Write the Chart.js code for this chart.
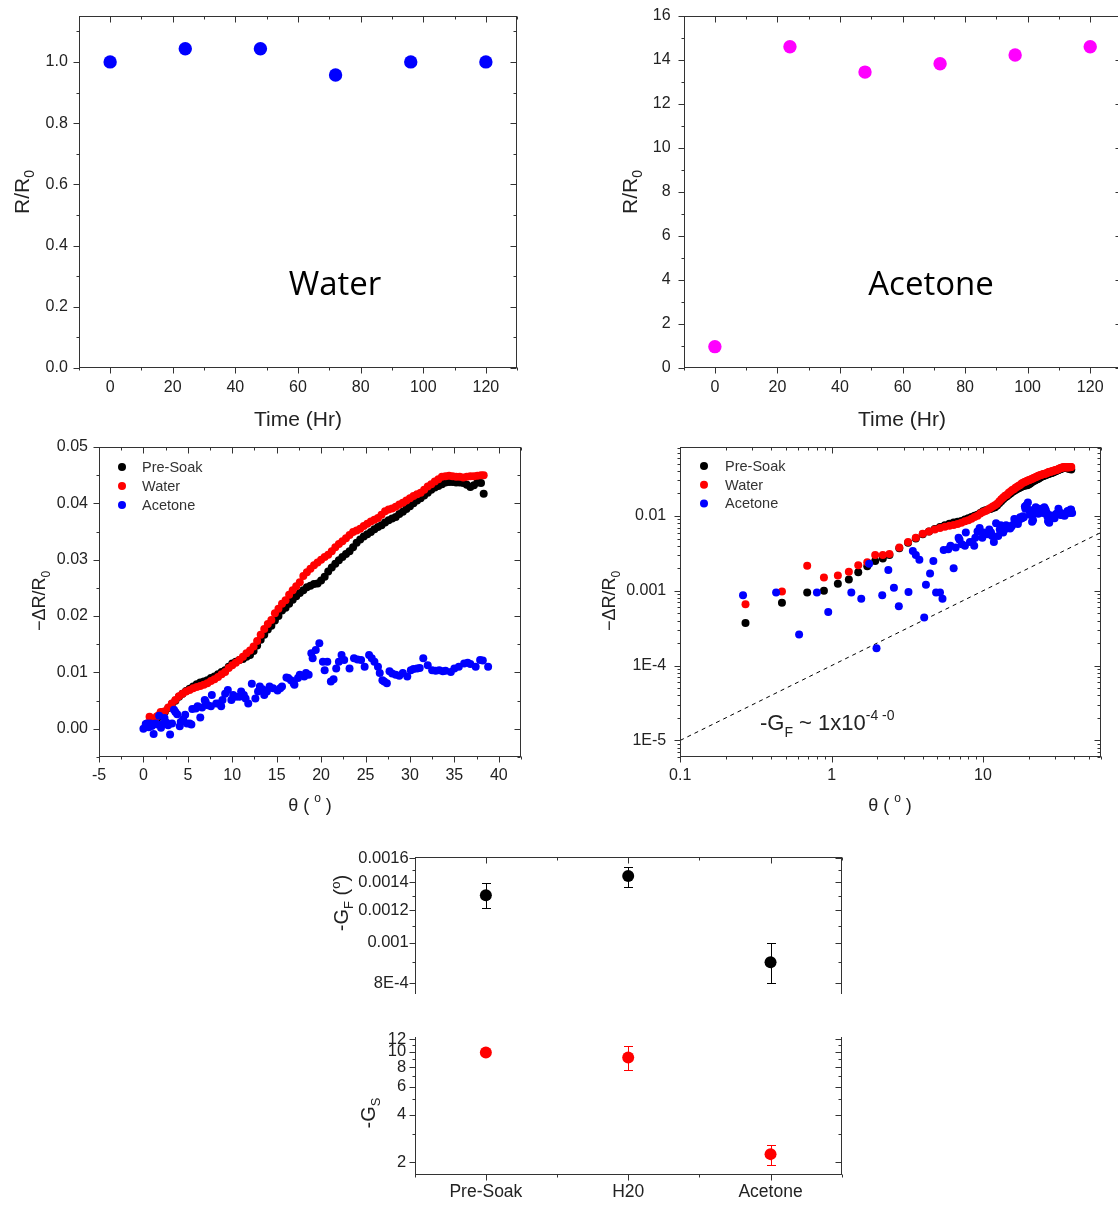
<!DOCTYPE html>
<html>
<head>
<meta charset="utf-8">
<title>Soak test: resistance ratio and gauge factor</title>
<script src="https://cdn.jsdelivr.net/npm/chart.js@4.4.1/dist/chart.umd.min.js"></script>
<style>
  body { margin: 0; background: #fff; }
  #page { position: relative; width: 1118px; height: 1205px; overflow: hidden; background: #fff; }
  #page canvas { position: absolute; display: block; }
</style>
</head>
<body>
<div id="page">
  <canvas id="water" width="540" height="440" style="left:0;top:0"></canvas>
  <canvas id="acetone" width="540" height="440" style="left:590px;top:0"></canvas>
  <canvas id="bendLin" width="540" height="400" style="left:0;top:430px"></canvas>
  <canvas id="bendLog" width="528" height="400" style="left:590px;top:430px"></canvas>
  <canvas id="gaugeF" width="560" height="160" style="left:320px;top:840px"></canvas>
  <canvas id="gaugeS" width="560" height="185" style="left:320px;top:1020px"></canvas>
</div>
<script>
'use strict';

// ---- data ----
const soakHours = [0, 24, 48, 72, 96, 120];
const waterRatio = [1.0, 1.043, 1.043, 0.957, 1.0, 1.0];
const acetoneRatio = [0.97, 14.6, 13.45, 13.83, 14.23, 14.6];

const seriesNames = ['Pre-Soak', 'Water', 'Acetone'];

// bend angle (deg) shared by pre-soak and water sweeps
const thetaCurve = [
  0.27, 0.47, 0.69, 0.89, 1.1, 1.3, 1.5, 1.72, 1.94, 2.18, 2.41,
  2.8, 3.2, 3.6, 4.0, 4.4, 4.8, 5.2, 5.6, 6.0, 6.4,
  6.8, 7.2, 7.6, 8.0, 8.4, 8.8, 9.2, 9.6, 10.0, 10.4,
  10.8, 11.2, 11.6, 12.0, 12.4, 12.8, 13.2, 13.6, 14.0, 14.4,
  14.8, 15.2, 15.6, 16.0, 16.4, 16.8, 17.2, 17.6, 18.0, 18.4,
  18.8, 19.2, 19.6, 20.0, 20.4, 20.8, 21.2, 21.6, 22.0, 22.4,
  22.8, 23.2, 23.6, 24.0, 24.4, 24.8, 25.2, 25.6, 26.0, 26.4,
  26.8, 27.2, 27.6, 28.0, 28.4, 28.8, 29.2, 29.6, 30.0, 30.4,
  30.8, 31.2, 31.6, 32.0, 32.4, 32.8, 33.2, 33.6, 34.0, 34.4,
  34.8, 35.2, 35.6, 36.0, 36.4, 36.8, 37.2, 37.6, 38.0, 38.3
];
const preSoakDR = [
  0.00037, 0.00069, 0.00095, 0.0010, 0.00124, 0.00142, 0.00177, 0.00213, 0.0025, 0.0027, 0.0030,
  0.0037, 0.0044, 0.0050, 0.0057, 0.0062, 0.0067, 0.0071, 0.0075, 0.0079, 0.0082,
  0.0084, 0.0086, 0.0090, 0.0093, 0.0097, 0.0101, 0.0104, 0.0110, 0.0116, 0.0119,
  0.0122, 0.0124, 0.0128, 0.0131, 0.0138, 0.0148, 0.0158, 0.0167, 0.0176, 0.0183,
  0.0192, 0.0200, 0.0210, 0.0215, 0.0222, 0.0229, 0.0235, 0.0241, 0.0246, 0.0251,
  0.0254, 0.0257, 0.0258, 0.0263, 0.0270, 0.0279, 0.0286, 0.0293, 0.0299, 0.0305,
  0.0310, 0.0315, 0.0322, 0.0330, 0.0336, 0.0341, 0.0345, 0.0349, 0.0354, 0.0358,
  0.0361, 0.0366, 0.0370, 0.0373, 0.0376, 0.0381, 0.0385, 0.0390, 0.0395, 0.0400,
  0.0405, 0.0409, 0.0414, 0.0419, 0.0424, 0.0428, 0.0431, 0.0434, 0.0437, 0.0438,
  0.0438, 0.0437, 0.0437, 0.0436, 0.0433, 0.0429, 0.0432, 0.0437, 0.0436, 0.0417
];
const waterDR = [
  0.00066, 0.00098, 0.00216, 0.0015, 0.0016, 0.0018, 0.0022, 0.0024, 0.0030, 0.0030, 0.0031,
  0.0038, 0.0045, 0.0051, 0.0058, 0.0062, 0.0066, 0.0069, 0.0072, 0.0074, 0.0076,
  0.0078, 0.0081, 0.0085, 0.0088, 0.0092, 0.0097, 0.0101, 0.0108, 0.0113, 0.0117,
  0.0122, 0.0128, 0.0134, 0.0139, 0.0146, 0.0156, 0.0167, 0.0177, 0.0186, 0.0193,
  0.0205, 0.0213, 0.0222, 0.0228, 0.0238, 0.0246, 0.0253, 0.0260, 0.0271, 0.0278,
  0.0284, 0.0290, 0.0295, 0.0300, 0.0305, 0.0309, 0.0315, 0.0322, 0.0328, 0.0333,
  0.0338, 0.0344, 0.0349, 0.0352, 0.0355, 0.0360, 0.0364, 0.0368, 0.0371, 0.0374,
  0.0380, 0.0386, 0.0389, 0.0391, 0.0394, 0.0398, 0.0401, 0.0405, 0.0409, 0.0413,
  0.0416, 0.0419, 0.0424, 0.0430, 0.0434, 0.0439, 0.0443, 0.0447, 0.0448, 0.0449,
  0.0448, 0.0447, 0.0447, 0.0446, 0.0447, 0.0448, 0.0448, 0.0449, 0.0450, 0.0450
];

const thetaAcetone = [
  0, 0.26, 0.43, 0.61, 0.8, 0.95, 1.15, 1.35, 1.57, 1.77,
  1.98, 2.16, 2.37, 2.58, 2.78, 3.0, 3.22, 3.44, 3.6, 3.8,
  4.09, 4.2, 4.47, 4.7, 4.9, 5.2, 5.4, 5.5, 5.9, 6.1,
  6.4, 6.6, 6.9, 7.0, 7.25, 7.6, 7.7, 8.2, 8.5, 8.75,
  8.9, 9.2, 9.5, 9.9, 10.1, 10.4, 10.8, 11.0, 11.3, 11.5,
  11.8, 12.2, 12.6, 12.9, 13.1, 13.4, 13.6, 13.9, 14.2, 14.6,
  15.1, 15.4, 15.6, 16.1, 16.3, 16.6, 16.9, 17.0, 17.4, 17.6,
  18.1, 18.3, 18.6, 18.9, 19.05, 19.4, 19.8, 20.2, 20.4, 20.7,
  21.1, 21.4, 21.7, 22.0, 22.3, 22.6, 23.2, 23.7, 24.1, 24.5,
  24.9, 25.4, 25.7, 26.0, 26.4, 26.6, 26.9, 27.1, 27.4, 27.7,
  28.0, 28.4, 28.8, 29.2, 29.7, 30.1, 30.4, 30.8, 31.1, 31.5,
  32.0, 32.5, 32.9, 33.3, 33.7, 34.0, 34.6, 35.0, 35.5, 36.1,
  36.5, 36.8, 37.4, 37.9, 38.2, 38.8
];
const acetoneDR = [
  0, 0.00087, 0.00095, 0.00026, 0.00095, 0.00052, -0.0009, 0.00095, 0.00078, 0.0023,
  0.00017, 0.00087, 0.0019, 0.0011, 0.00062, -0.001, 0.00096, 0.0034, 0.0030, 0.0026,
  0.00044, 0.0012, 0.0017, 0.0025, 0.00095, 0.00095, 0.00078, 0.0035, 0.0036, 0.0040,
  0.0020, 0.0038, 0.0051, 0.0048, 0.0042, 0.0040, 0.0060, 0.0045, 0.0045, 0.0040,
  0.0051, 0.0062, 0.0069, 0.0051, 0.0060, 0.0057, 0.0057, 0.0066, 0.0060, 0.0054,
  0.0045, 0.0080, 0.0054, 0.0066, 0.0075, 0.0070, 0.0060, 0.0066, 0.0075, 0.0072,
  0.0068, 0.0072, 0.0075, 0.0091, 0.0090, 0.0086, 0.0081, 0.0078, 0.0090, 0.0096,
  0.0093, 0.0099, 0.0096, 0.0134, 0.0125, 0.0140, 0.0152, 0.0119, 0.0104, 0.0119,
  0.0084, 0.0088, 0.0107, 0.0119, 0.0131, 0.0122, 0.0107, 0.0125, 0.0123, 0.0122,
  0.0110, 0.0131, 0.0125, 0.0119, 0.0110, 0.0099, 0.0086, 0.0084, 0.0081, 0.0102,
  0.0098, 0.0096, 0.0094, 0.0099, 0.0093, 0.0104, 0.0106, 0.0107, 0.0108, 0.0125,
  0.0113, 0.0104, 0.0103, 0.0104, 0.0102, 0.0103, 0.0101, 0.0107, 0.0110, 0.0116,
  0.0117, 0.0115, 0.0110, 0.0122, 0.0121, 0.0110
];

// dashed guide line, -G_F ~ 1e-4
const fitTheta = [0.1, 60];
const fitDR = [1e-5, 6e-3];

// gauge factors per sample
const sampleNames = ['Pre-Soak', 'H20', 'Acetone'];
const sampleTicks = [0, 1, 2];
const gF = [0.001303, 0.001449, 0.000898];
const gFLow = [0.001214, 0.001364, 0.0008];
const gFHigh = [0.001394, 0.00152, 0.001];
const gS = [9.9, 9.2, 2.25];
const gSLow = [9.65, 7.66, 1.92];
const gSHigh = [10.15, 10.9, 2.56];

// tick values and labels
const hourTicks = [0, 20, 40, 60, 80, 100, 120];
const waterTicks = [0, 0.2, 0.4, 0.6, 0.8, 1.0];
const acetoneTicks = [0, 2, 4, 6, 8, 10, 12, 14, 16];
const thetaTicks = [-5, 0, 5, 10, 15, 20, 25, 30, 35, 40];
const drTicks = [0, 0.01, 0.02, 0.03, 0.04, 0.05];
const thetaLogTicks = [0.1, 1, 10];
const thetaLogLabels = ['0.1', '1', '10'];
const drLogTicks = [1e-5, 1e-4, 1e-3, 1e-2];
const drLogLabels = ['1E-5', '1E-4', '0.001', '0.01'];
const gFTicks = [0.0008, 0.001, 0.0012, 0.0014, 0.0016];
const gFLabels = ['8E-4', '0.001', '0.0012', '0.0014', '0.0016'];
const gSTicks = [2, 4, 6, 8, 10, 12];

// ---- styling ----
const SANS = '"Liberation Sans", Arial, sans-serif';
const LABEL_FONT = '"Open Sans", Lato, sans-serif';
const INK = '#222';
const AXIS = '#333';
const BLUE = '#0000ff', MAGENTA = '#ff00ff', RED = '#ff0000', BLACK = '#000000';

Chart.defaults.font.family = SANS;
Chart.defaults.color = INK;
Chart.defaults.animation = false;
Chart.defaults.plugins.legend.display = false;
Chart.defaults.plugins.tooltip.enabled = false;
Chart.defaults.elements.point.borderWidth = 0;

const pairs = (xs, ys) => xs.map((x, i) => ({ x, y: ys[i] }));
const positive = pts => pts.filter(p => p.x > 0 && p.y > 0);

function scale(type, min, max, values, labels, size, pad, fit) {
  return {
    type, min, max,
    grid: { display: false, drawTicks: false },
    border: { display: false },
    ticks: {
      display: labels !== null,
      autoSkip: false, maxRotation: 0, minRotation: 0,
      padding: pad, color: INK, font: { size },
      callback: (v, i) => labels ? labels[i] : ''
    },
    afterBuildTicks: s => { s.ticks = values.map(value => ({ value })); },
    // fixed axis box, and no label overhang pushing the plot area around
    afterFit: s => {
      if (s.isHorizontal()) { s.height = fit; s.paddingLeft = 0; s.paddingRight = 0; }
      else { s.width = fit; s.paddingTop = 0; s.paddingBottom = 0; }
    }
  };
}

function minorValues(sc, major, mid) {
  const out = [];
  if (sc.type === 'logarithmic' && !mid) {
    const lo = Math.floor(Math.log10(sc.min)), hi = Math.ceil(Math.log10(sc.max));
    for (let e = lo; e < hi; e++) {
      for (let k = 2; k < 10; k++) {
        const v = k * Math.pow(10, e);
        if (v >= sc.min && v <= sc.max) out.push(v);
      }
    }
    return out;
  }
  const step = major[1] - major[0];
  for (let v = major[0] - step / 2; v <= sc.max + step * 1e-6; v += step) {
    if (v >= sc.min - step * 1e-6) out.push(v);
  }
  return out;
}

// box frame; ticks point out on left/bottom and in on top/right
const frame = (sides, midY) => ({
  id: 'frame',
  afterDraw(chart) {
    const { ctx, chartArea: a } = chart;
    const L = Math.round(a.left) + 0.5, R = Math.round(a.right) - 0.5;
    const T = Math.round(a.top) + 0.5, B = Math.round(a.bottom) - 0.5;
    const has = s => sides.includes(s);
    ctx.save();
    ctx.strokeStyle = AXIS;
    ctx.lineWidth = 1;
    ctx.beginPath();
    if (has('t')) { ctx.moveTo(L - 0.5, T); ctx.lineTo(R + 0.5, T); }
    if (has('b')) { ctx.moveTo(L - 0.5, B); ctx.lineTo(R + 0.5, B); }
    if (has('l')) { ctx.moveTo(L, T - 0.5); ctx.lineTo(L, B + 0.5); }
    if (has('r')) { ctx.moveTo(R, T - 0.5); ctx.lineTo(R, B + 0.5); }
    const marks = (sc, vals, len) => vals.forEach(v => {
      const p = Math.round(sc.getPixelForValue(v)) + 0.5;
      if (sc.isHorizontal()) {
        if (p < L - 1 || p > R + 1) return;
        if (has('b')) { ctx.moveTo(p, B); ctx.lineTo(p, B + len); }
        if (has('t')) { ctx.moveTo(p, T); ctx.lineTo(p, T + len); }
      } else {
        if (p < T - 1 || p > B + 1) return;
        if (has('l')) { ctx.moveTo(L, p); ctx.lineTo(L - len, p); }
        if (has('r')) { ctx.moveTo(R, p); ctx.lineTo(R - len, p); }
      }
    });
    const { x, y } = chart.scales;
    [[x, false], [y, midY]].forEach(([sc, mid]) => {
      const major = sc.ticks.map(t => t.value);
      marks(sc, major, 6);
      marks(sc, minorValues(sc, major, mid), 3);
    });
    ctx.stroke();
    ctx.restore();
  }
});

// text with sub/superscripts: parts are [text, size, dy]
function drawRich(ctx, item) {
  const fam = item.family || SANS;
  ctx.save();
  ctx.translate(item.x, item.y);
  if (item.rot) ctx.rotate(-Math.PI / 2);
  ctx.fillStyle = item.color || INK;
  ctx.textBaseline = 'alphabetic';
  ctx.textAlign = 'left';
  let w = 0;
  item.parts.forEach(([t, s]) => { ctx.font = s + 'px ' + fam; w += ctx.measureText(t).width; });
  let cx = item.left ? 0 : -w / 2;
  item.parts.forEach(([t, s, dy]) => {
    ctx.font = s + 'px ' + fam;
    ctx.fillText(t, cx, dy || 0);
    cx += ctx.measureText(t).width;
  });
  ctx.restore();
}
const texts = items => ({
  id: 'texts',
  afterDraw(chart) { items.forEach(it => drawRich(chart.ctx, it)); }
});

// legend drawn inside the plot
const inLegend = (x, y, dy, gap) => ({
  id: 'inLegend',
  afterDraw(chart) {
    const ctx = chart.ctx;
    ctx.save();
    ctx.font = '14.5px ' + SANS;
    ctx.textBaseline = 'middle';
    chart.data.datasets.filter(d => d.label).forEach((d, i) => {
      const cy = y + i * dy;
      ctx.fillStyle = d.backgroundColor;
      ctx.beginPath();
      ctx.arc(x, cy, 4, 0, Math.PI * 2);
      ctx.fill();
      ctx.fillStyle = '#333';
      ctx.fillText(d.label, x + gap, cy + 1);
    });
    ctx.restore();
  }
});

const errorBars = (low, high, color) => ({
  id: 'errorBars',
  beforeDatasetsDraw(chart) {
    const { ctx, scales: { x, y } } = chart;
    ctx.save();
    ctx.strokeStyle = color;
    ctx.lineWidth = 1;
    ctx.beginPath();
    low.forEach((lo, i) => {
      const px = Math.round(x.getPixelForValue(i)) + 0.5;
      const y0 = Math.round(y.getPixelForValue(lo)) + 0.5;
      const y1 = Math.round(y.getPixelForValue(high[i])) + 0.5;
      ctx.moveTo(px, y0); ctx.lineTo(px, y1);
      ctx.moveTo(px - 4.5, y0); ctx.lineTo(px + 4.5, y0);
      ctx.moveTo(px - 4.5, y1); ctx.lineTo(px + 4.5, y1);
    });
    ctx.stroke();
    ctx.restore();
  }
});

// Water soak
new Chart(document.getElementById('water'), {
  type: 'scatter',
  data: { datasets: [{ data: pairs(soakHours, waterRatio), backgroundColor: BLUE, pointRadius: 6.7 }] },
  options: {
    responsive: false,
    layout: { padding: { top: 16, right: 22.8, bottom: 0, left: 0 } },
    scales: {
      x: scale('linear', -10, 130, hourTicks, hourTicks.map(String), 16, 10, 72),
      y: scale('linear', 0, 1.15, waterTicks, waterTicks.map(v => v.toFixed(1)), 16, 11, 78.8)
    }
  },
  plugins: [frame('tblr'), texts([
    { x: 298, y: 426, parts: [['Time (Hr)', 21]] },
    { x: 29, y: 192, rot: true, parts: [['R/R', 21], ['0', 14, 5]] },
    { x: 335, y: 295, family: LABEL_FONT, color: '#000', parts: [['Water', 33]] }
  ])]
});

// Acetone soak (right border falls just past the picture edge)
new Chart(document.getElementById('acetone'), {
  type: 'scatter',
  data: { datasets: [{ data: pairs(soakHours, acetoneRatio), backgroundColor: MAGENTA, pointRadius: 6.7 }] },
  options: {
    responsive: false,
    layout: { padding: { top: 16, right: 8.5, bottom: 0, left: 0 } },
    scales: {
      x: scale('linear', -10, 130, hourTicks, hourTicks.map(String), 16, 10, 72),
      y: scale('linear', 0, 16, acetoneTicks, acetoneTicks.map(String), 16, 13, 93.6)
    }
  },
  plugins: [frame('tblr'), texts([
    { x: 312, y: 426, parts: [['Time (Hr)', 21]] },
    { x: 47, y: 192, rot: true, parts: [['R/R', 21], ['0', 14, 5]] },
    { x: 341, y: 295, family: LABEL_FONT, color: '#000', parts: [['Acetone', 33]] }
  ])]
});

// Bending response, linear axes
new Chart(document.getElementById('bendLin'), {
  type: 'scatter',
  data: {
    datasets: [
      { label: seriesNames[0], data: pairs(thetaCurve, preSoakDR), backgroundColor: BLACK, pointRadius: 4, order: 3 },
      { label: seriesNames[1], data: pairs(thetaCurve, waterDR), backgroundColor: RED, pointRadius: 4, order: 2 },
      { label: seriesNames[2], data: pairs(thetaAcetone, acetoneDR), backgroundColor: BLUE, pointRadius: 4, order: 1 }
    ]
  },
  options: {
    responsive: false,
    layout: { padding: { top: 17, right: 19, bottom: 0, left: 0 } },
    scales: {
      x: scale('linear', -5, 42.5, thetaTicks, thetaTicks.map(String), 16, 9, 73),
      y: scale('linear', -0.005, 0.05, drTicks, drTicks.map(v => v.toFixed(2)), 16, 11, 99)
    }
  },
  plugins: [frame('tblr'), inLegend(122, 37, 19, 20), texts([
    { x: 310, y: 381, parts: [['θ ( ', 18], ['o', 12, -9], [' )', 18]] },
    { x: 45, y: 171, rot: true, parts: [['−ΔR/R', 18], ['0', 12, 5]] }
  ])]
});

// Bending response, log-log axes
new Chart(document.getElementById('bendLog'), {
  type: 'scatter',
  data: {
    datasets: [
      { label: seriesNames[0], data: positive(pairs(thetaCurve, preSoakDR)), backgroundColor: BLACK, pointRadius: 4, order: 3 },
      { label: seriesNames[1], data: positive(pairs(thetaCurve, waterDR)), backgroundColor: RED, pointRadius: 4, order: 2 },
      { label: seriesNames[2], data: positive(pairs(thetaAcetone, acetoneDR)), backgroundColor: BLUE, pointRadius: 4, order: 1 },
      { data: pairs(fitTheta, fitDR), showLine: true, borderColor: BLACK, borderWidth: 1, borderDash: [4, 4], pointRadius: 0, order: 4 }
    ]
  },
  options: {
    responsive: false,
    layout: { padding: { top: 17, right: 17.2, bottom: 0, left: 0 } },
    scales: {
      x: scale('logarithmic', 0.1, 60, thetaLogTicks, thetaLogLabels, 16, 9, 73),
      y: scale('logarithmic', 6e-6, 0.0836, drLogTicks, drLogLabels, 16, 14, 90.2)
    }
  },
  plugins: [frame('tblr'), inLegend(114, 36, 18.7, 21), texts([
    { x: 300, y: 381, parts: [['θ ( ', 18], ['o', 12, -9], [' )', 18]] },
    { x: 25, y: 171, rot: true, parts: [['−ΔR/R', 18], ['0', 12, 5]] },
    { x: 170, y: 300, left: true, parts: [['-G', 22], ['F', 14, 7], [' ~ 1x10', 22], ['-4 -0', 14, -10]] }
  ])]
});

// Gauge factor G_F
new Chart(document.getElementById('gaugeF'), {
  type: 'scatter',
  data: { datasets: [{ data: pairs(sampleTicks, gF), backgroundColor: BLACK, pointRadius: 6 }] },
  options: {
    responsive: false,
    layout: { padding: { top: 17, right: 38.3, bottom: 4, left: 0 } },
    scales: {
      x: scale('linear', -0.5, 2.5, sampleTicks, null, 16, 0, 0),
      y: scale('logarithmic', 0.000753, 0.00161, gFTicks, gFLabels, 16.5, 6, 94.7)
    }
  },
  plugins: [errorBars(gFLow, gFHigh, BLACK), frame('tlr', true), texts([
    { x: 28, y: 63, rot: true, parts: [['-G', 20], ['F', 13, 5], [' (', 20], ['o', 13, -8], [')', 20]] }
  ])]
});

// Gauge factor G_S
new Chart(document.getElementById('gaugeS'), {
  type: 'scatter',
  data: { datasets: [{ data: pairs(sampleTicks, gS), backgroundColor: RED, pointRadius: 6 }] },
  options: {
    responsive: false,
    layout: { padding: { top: 17, right: 38.3, bottom: 0, left: 0 } },
    scales: {
      x: scale('linear', -0.5, 2.5, sampleTicks, sampleNames, 17.5, 7, 30),
      y: scale('logarithmic', 1.66, 12.4, gSTicks, gSTicks.map(String), 16.5, 8.5, 94.7)
    }
  },
  plugins: [errorBars(gSLow, gSHigh, RED), frame('blr', true), texts([
    { x: 55, y: 93, rot: true, parts: [['-G', 20], ['S', 13, 5]] }
  ])]
});
</script>
</body>
</html>
